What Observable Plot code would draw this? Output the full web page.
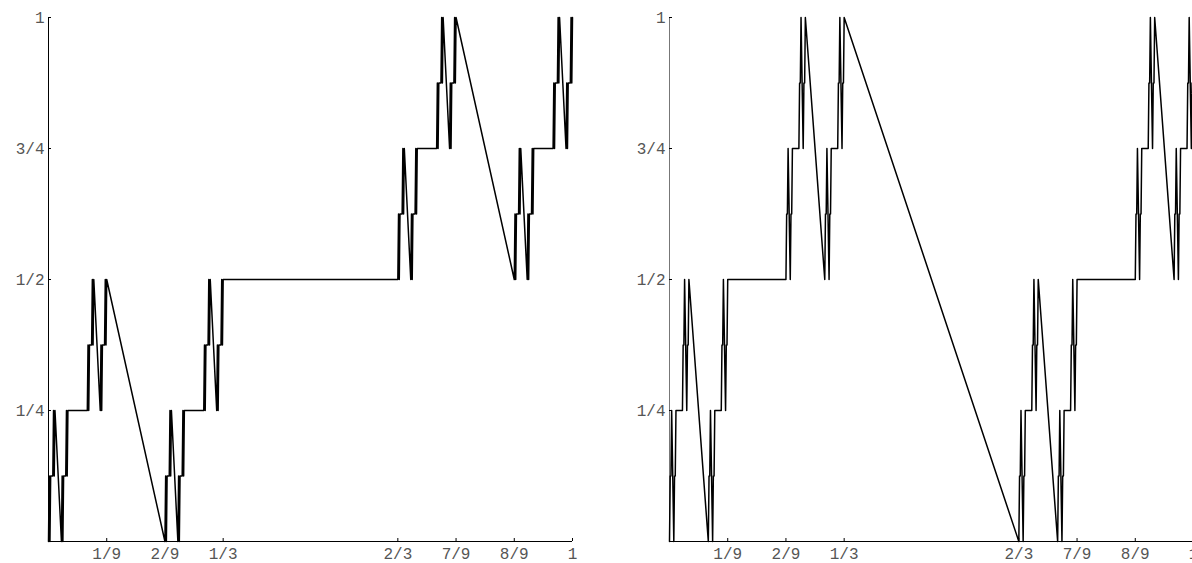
<!DOCTYPE html>
<html>
<head>
<meta charset="utf-8">
<script src="https://cdn.jsdelivr.net/npm/d3@7"></script>
<script src="https://cdn.jsdelivr.net/npm/@observablehq/plot@0.6"></script>
<style>
  html, body { margin: 0; padding: 0; background: #fff; overflow: hidden; }
  #wrap { position: relative; width: 1192px; height: 563px; overflow: hidden; }
  #left, #right { position: absolute; top: 0; width: 596px; height: 563px; }
  #left { left: 0; }
  #right { left: 621px; }
  #wrap svg { max-width: none !important; width: 596px; height: 563px; }
</style>
</head>
<body>
<div id="wrap"><div id="left"></div><div id="right"></div></div>
<script>
// Tick positions and labels
const xTicks = [1/9, 2/9, 1/3, 2/3, 7/9, 8/9, 1];
const xTickLabels = ["1/9", "2/9", "1/3", "2/3", "7/9", "8/9", "1"];
const yTicks = [1/4, 1/2, 3/4, 1];
const yTickLabels = ["1/4", "1/2", "3/4", "1"];

// Finest visible blocks of each curve: start (in 1/243 of x) and lower level (in 1/8 of y)
const blockStarts = [0, 2, 6, 8, 18, 20, 24, 26, 54, 56, 60, 62, 72, 74, 78, 80,
                     162, 164, 168, 170, 180, 182, 186, 188, 216, 218, 222, 224, 234, 236, 240, 242];
const leftBlockLows  = [0, 1, 0, 1, 2, 3, 2, 3, 0, 1, 0, 1, 2, 3, 2, 3,
                        4, 5, 4, 5, 6, 7, 6, 7, 4, 5, 4, 5, 6, 7, 6, 7];
const rightBlockLows = [0, 0, 2, 2, 0, 0, 2, 2, 4, 4, 6, 6, 4, 4, 6, 6,
                        0, 0, 2, 2, 0, 0, 2, 2, 4, 4, 6, 6, 4, 4, 6, 6];
const leftBlockRise = 1/8;
const rightBlockRise = 1/4;
// shape of one block: (fraction of block width, fraction of block rise)
const leftBlockShape  = [[0, 0], [1/3, 1], [2/3, 0], [1, 1]];     // up, down, up
const rightBlockShape = [[0, 0], [1/3, 0.5], [2/3, 0.5], [1, 1]]; // up, step, up

function curvePoints(starts, lows, rise, shape) {
  const pts = [];
  starts.forEach((s, i) => {
    const lo = lows[i] / 8;
    shape.forEach(([fx, fy]) => pts.push({x: (s + fx) / 243, y: lo + fy * rise}));
  });
  return pts;
}

const xLabel = new Map(xTicks.map((t, i) => [t, xTickLabels[i]]));
const yLabel = new Map(yTicks.map((t, i) => [t, yTickLabels[i]]));

function panel(points, yAxisColor) {
  return Plot.plot({
    width: 596, height: 563,
    marginLeft: 48, marginRight: 24, marginTop: 17, marginBottom: 22,
    x: {domain: [0, 1], label: null},
    y: {domain: [0, 1], label: null},
    style: {background: "white", color: "#555", fontFamily: "'Liberation Mono', 'DejaVu Sans Mono', monospace", overflow: "visible"},
    marks: [
      Plot.ruleX([0], {y1: 0, y2: 1, stroke: yAxisColor, strokeWidth: 1}),
      Plot.ruleY([0], {x1: 0, x2: 1, stroke: "black", strokeWidth: 1}),
      Plot.ruleY(yTicks, {y: d => d, x1: 0, x2: 0, insetRight: -3, stroke: "black"}),
      Plot.ruleX(xTicks, {x: d => d, y1: 0, y2: 0, insetTop: -3, stroke: "black"}),
      Plot.axisX(xTicks, {tickSize: 0, tickPadding: 6, fontSize: 16, tickFormat: d => xLabel.get(d), fill: "#555"}),
      Plot.axisY(yTicks, {tickSize: 0, tickPadding: 4, fontSize: 16, tickFormat: d => yLabel.get(d), fill: "#555"}),
      Plot.line(points, {x: "x", y: "y", stroke: "black", strokeWidth: 1.5})
    ]
  });
}

document.getElementById("left").appendChild(
  panel(curvePoints(blockStarts, leftBlockLows, leftBlockRise, leftBlockShape), "black"));
document.getElementById("right").appendChild(
  panel(curvePoints(blockStarts, rightBlockLows, rightBlockRise, rightBlockShape), "#777"));
</script>
</body>
</html>
